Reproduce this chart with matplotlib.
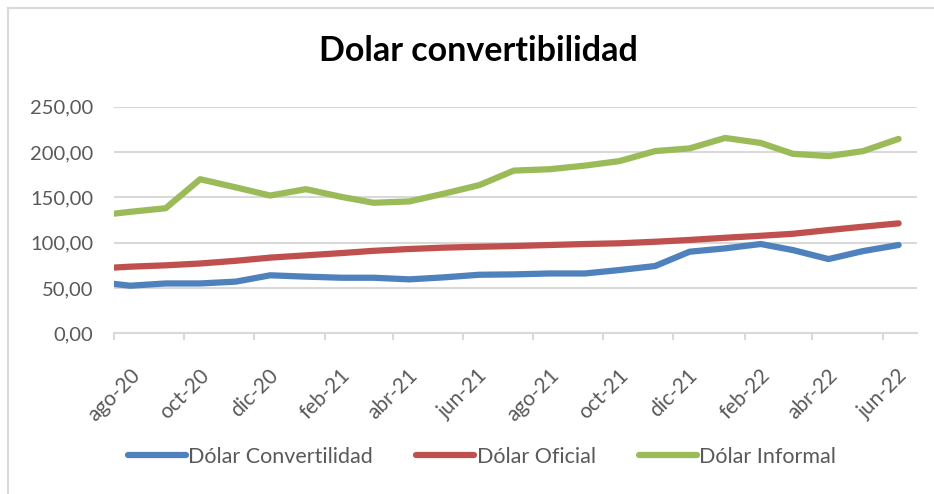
import matplotlib
matplotlib.use("Agg")
import matplotlib.pyplot as plt
import matplotlib.dates as mdates
from matplotlib.lines import Line2D
from datetime import datetime

plt.rcParams['font.family'] = ['Lato', 'DejaVu Sans']

# Data
fechas = [datetime(2020, 8, 1)] + [datetime(2020 + (m - 1) // 12, (m - 1) % 12 + 1, 15) for m in range(8, 31)]
dolar_convertibilidad = [54.5, 52.5, 55.0, 55.0, 57.0, 64.0, 62.5, 61.3, 61.3, 59.5, 61.7, 64.6,
                         65.0, 66.0, 66.0, 69.8, 74.2, 90.0, 93.7, 98.5, 91.8, 81.9, 90.7, 97.4]
dolar_oficial = [72.5, 73.5, 75.0, 77.0, 80.0, 83.5, 86.0, 88.5, 91.0, 93.0, 94.5, 95.5,
                 96.3, 97.4, 98.5, 99.3, 101.0, 103.0, 105.4, 107.6, 109.8, 113.9, 117.6, 121.3]
dolar_informal = [132.0, 134.0, 138.0, 170.0, 161.0, 152.0, 159.0, 150.5, 144.0, 145.5, 154.0, 163.5,
                  179.5, 181.0, 185.0, 190.0, 201.0, 204.0, 215.5, 210.0, 198.0, 195.5, 201.0, 214.5]

series_nombres = ['Dólar Convertilidad', 'Dólar Oficial', 'Dólar Informal']
series_colores = ['#4f81bd', '#c0504d', '#9bbb59']

tick_fechas = [datetime(2020 + (m - 1) // 12, (m - 1) % 12 + 1, 1) for m in range(8, 31, 2)]
tick_labels = ['ago-20', 'oct-20', 'dic-20', 'feb-21', 'abr-21', 'jun-21',
               'ago-21', 'oct-21', 'dic-21', 'feb-22', 'abr-22', 'jun-22']
y_ticks = [0, 50, 100, 150, 200, 250]

fig = plt.figure(figsize=(9.34, 4.94), dpi=100)
ax = fig.add_axes([114 / 934, 1 - 333.3 / 494, (917 - 114) / 934, (333.3 - 106.7) / 494])

# chart frame (top and left edges visible)
fig.add_artist(Line2D([8 / 934, 8 / 934], [0, 1 - 8 / 494], color='#d9d9d9', lw=1.5, transform=fig.transFigure))
fig.add_artist(Line2D([8 / 934, 1], [1 - 8 / 494, 1 - 8 / 494], color='#d9d9d9', lw=1.5, transform=fig.transFigure))

for valores, nombre, color in zip([dolar_convertibilidad, dolar_oficial, dolar_informal], series_nombres, series_colores):
    ax.plot(fechas, valores, color=color, lw=4.5, solid_capstyle='round', solid_joinstyle='round', label=nombre)

ax.set_xlim(datetime(2020, 8, 1), datetime(2022, 7, 1))
ax.set_ylim(0, 250)
ax.set_yticks(y_ticks)
ax.set_yticklabels([f'{v:.2f}'.replace('.', ',') for v in y_ticks], fontsize=14.5, color='#595959')
ax.set_xticks(mdates.date2num(tick_fechas))
ax.set_xticklabels(tick_labels, rotation=45, ha='center', va='top', fontsize=15, color='#595959')

ax.grid(axis='y', color='#d9d9d9', lw=1.5)
ax.set_axisbelow(True)
for s in ['top', 'right', 'left']:
    ax.spines[s].set_visible(False)
ax.spines['bottom'].set_color('#d9d9d9')
ax.spines['bottom'].set_linewidth(1.5)
ax.tick_params(axis='y', length=0, pad=15)
ax.tick_params(axis='x', length=5, width=1.5, color='#d9d9d9', pad=18)

fig.text(478 / 934, 1 - 51 / 494, 'Dolar convertibilidad', ha='center', va='center',
         fontsize=24.5, fontweight='bold', color='black')

fig.legend(loc='center', bbox_to_anchor=(482 / 934, 1 - 457 / 494), ncol=3, frameon=False,
           fontsize=15.5, handlelength=2.7, handletextpad=0.1, columnspacing=2.0,
           labelcolor='#595959')

fig.savefig('out.png', dpi=100)
